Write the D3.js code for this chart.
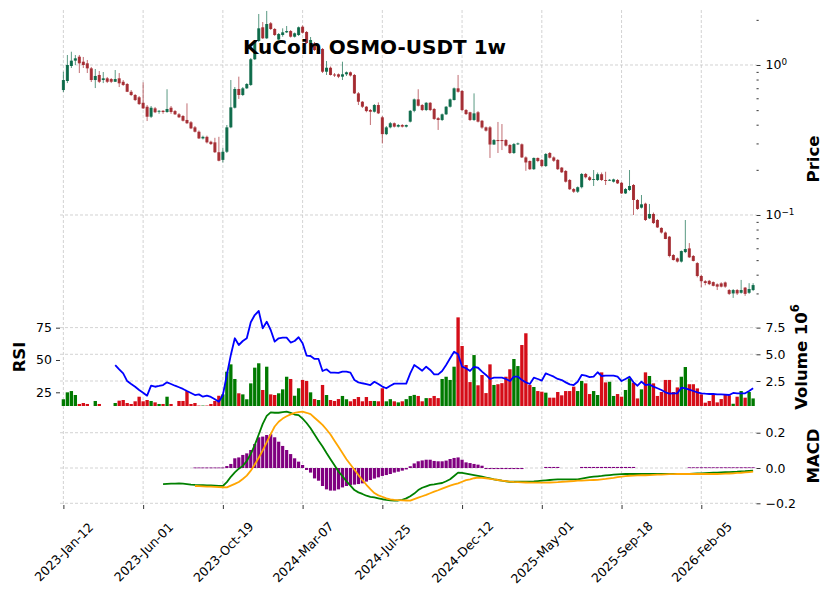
<!DOCTYPE html>
<html><head><meta charset="utf-8">
<script src="https://cdn.jsdelivr.net/npm/d3@7"></script>
<style>body{margin:0;background:#fff}svg{display:block;font-family:"DejaVu Sans",sans-serif}</style>
</head><body><svg id="c" width="831" height="600"></svg>
<script>
const title = "KuCoin OSMO-USDT 1w";
const startDate = "2023-01-12";
const tickLabels = ["2023-Jan-12","2023-Jun-01","2023-Oct-19","2024-Mar-07","2024-Jul-25","2024-Dec-12","2025-May-01","2025-Sep-18","2026-Feb-05"];

const open = [0.681,0.782,0.985,1.069,1.136,1.052,1.026,0.950,0.794,0.858,0.794,0.815,0.806,0.773,0.815,0.773,0.747,0.663,0.631,0.609,
0.560,0.527,0.452,0.514,0.488,0.495,0.486,0.519,0.493,0.469,0.457,0.430,0.415,0.384,0.359,0.324,0.332,0.308,0.305,0.262,
0.233,0.264,0.384,0.519,0.692,0.631,0.699,0.736,1.092,1.446,1.784,1.506,1.897,1.738,1.479,1.585,1.651,1.684,1.544,1.585,
1.800,1.660,1.402,1.395,1.259,1.279,0.902,0.959,0.864,0.867,0.836,0.867,0.894,0.858,0.647,0.569,0.527,0.501,0.488,0.541,
0.448,0.346,0.384,0.409,0.388,0.398,0.388,0.419,0.495,0.590,0.541,0.501,0.560,0.509,0.442,0.430,0.469,0.527,0.584,0.699,
0.671,0.501,0.484,0.430,0.484,0.425,0.384,0.384,0.295,0.316,0.316,0.316,0.293,0.259,0.296,0.296,0.242,0.229,0.202,0.240,
0.233,0.212,0.259,0.242,0.233,0.207,0.1965,0.1711,0.1490,0.1430,0.1532,0.1877,0.1785,0.1724,0.1711,0.1870,0.1711,0.1702,0.1667,0.1711,
0.1640,0.1393,0.1468,0.1585,0.1259,0.1119,0.1190,0.0950,0.1016,0.0926,0.0820,0.0764,0.0717,0.0541,0.0514,0.0489,0.0566,0.0599,0.0533,0.0478,
0.0392,0.0362,0.0364,0.0357,0.0345,0.0350,0.0355,0.0316,0.0300,0.0316,0.0303,0.0328,0.0303,0.0316];
const high = [0.902,1.166,1.226,1.166,1.166,1.131,1.080,0.970,0.940,0.912,0.898,0.832,0.818,0.926,0.884,0.794,0.758,0.681,0.641,0.621,
0.765,0.541,0.533,0.525,0.501,0.501,0.689,0.533,0.501,0.478,0.464,0.555,0.423,0.392,0.366,0.338,0.338,0.313,0.327,0.332,
0.280,0.398,0.794,0.713,0.836,0.713,0.758,1.113,1.468,2.188,1.934,2.292,1.934,1.765,1.634,1.756,1.820,1.711,1.646,1.806,
1.835,1.684,1.537,1.424,1.339,1.298,1.063,0.977,0.884,0.878,1.052,0.905,0.905,0.871,0.660,0.575,0.533,0.509,0.549,0.563,
0.457,0.392,0.417,0.414,0.404,0.404,0.401,0.501,0.598,0.689,0.549,0.566,0.566,0.517,0.450,0.475,0.533,0.598,0.708,0.858,
0.681,0.509,0.488,0.647,0.493,0.430,0.389,0.392,0.321,0.417,0.404,0.321,0.297,0.302,0.304,0.300,0.246,0.231,0.242,0.242,
0.236,0.259,0.263,0.246,0.236,0.209,0.1995,0.1737,0.1513,0.1550,0.1906,0.1906,0.1820,0.1995,0.1920,0.1920,0.1942,0.1737,0.1747,0.1737,
0.1656,0.1513,0.1995,0.1609,0.1278,0.1359,0.1208,0.1184,0.1039,0.0940,0.0828,0.0776,0.0725,0.0549,0.0521,0.0580,0.0926,0.0650,0.0541,0.0485,
0.0400,0.0368,0.0369,0.0361,0.0350,0.0356,0.0360,0.0321,0.0321,0.0321,0.0369,0.0331,0.0351,0.0351];
const low = [0.660,0.758,0.955,1.000,0.884,0.955,0.884,0.770,0.702,0.758,0.758,0.758,0.758,0.770,0.713,0.725,0.660,0.621,0.575,0.541,
0.509,0.423,0.443,0.478,0.473,0.473,0.480,0.473,0.464,0.443,0.420,0.404,0.374,0.355,0.321,0.319,0.300,0.293,0.259,0.228,
0.224,0.259,0.379,0.513,0.594,0.621,0.692,0.725,1.080,1.424,1.491,1.491,1.711,1.561,1.468,1.544,1.634,1.524,1.524,1.561,
1.621,1.380,1.380,1.240,1.240,0.884,0.858,0.851,0.832,0.818,0.794,0.845,0.838,0.641,0.541,0.517,0.484,0.398,0.482,0.471,
0.300,0.341,0.378,0.383,0.383,0.383,0.383,0.414,0.484,0.529,0.493,0.493,0.493,0.430,0.369,0.423,0.464,0.520,0.580,0.654,
0.493,0.464,0.423,0.423,0.414,0.376,0.360,0.240,0.293,0.259,0.271,0.286,0.255,0.255,0.293,0.240,0.197,0.1995,0.1995,0.225,
0.209,0.209,0.238,0.226,0.1995,0.1906,0.1646,0.1468,0.1403,0.1403,0.1503,0.1753,0.1685,0.1561,0.1685,0.1685,0.1585,0.1685,0.1646,0.1609,
0.1380,0.1380,0.1446,0.1000,0.1080,0.1105,0.0912,0.0940,0.0871,0.0820,0.0752,0.0690,0.0522,0.0497,0.0482,0.0482,0.0557,0.0517,0.0490,0.0384,
0.0330,0.0340,0.0341,0.0334,0.0316,0.0329,0.0327,0.0293,0.0280,0.0293,0.0299,0.0289,0.0298,0.0311];
const close = [0.794,1.000,1.069,1.108,1.026,1.000,0.950,0.794,0.845,0.773,0.815,0.773,0.773,0.806,0.755,0.736,0.663,0.631,0.584,0.549,
0.514,0.452,0.519,0.484,0.495,0.486,0.509,0.486,0.469,0.448,0.425,0.409,0.378,0.359,0.324,0.332,0.305,0.297,0.262,0.230,
0.264,0.384,0.522,0.692,0.631,0.699,0.747,1.092,1.446,1.756,1.506,1.876,1.738,1.585,1.609,1.651,1.684,1.544,1.627,1.784,
1.641,1.402,1.468,1.259,1.279,0.902,0.959,0.858,0.851,0.836,0.867,0.894,0.851,0.647,0.569,0.527,0.493,0.488,0.541,0.476,
0.346,0.384,0.409,0.388,0.398,0.388,0.398,0.495,0.590,0.535,0.501,0.560,0.501,0.437,0.430,0.469,0.527,0.590,0.699,0.663,
0.501,0.471,0.430,0.476,0.419,0.383,0.365,0.295,0.316,0.311,0.311,0.290,0.259,0.297,0.300,0.242,0.224,0.202,0.240,0.229,
0.212,0.255,0.241,0.230,0.202,0.1926,0.1667,0.1485,0.1430,0.1532,0.1877,0.1785,0.1711,0.1737,0.1870,0.1711,0.1698,0.1716,0.1727,0.1625,
0.1393,0.1490,0.1561,0.1259,0.1097,0.1178,0.0926,0.1016,0.0884,0.0826,0.0764,0.0692,0.0533,0.0501,0.0489,0.0575,0.0593,0.0522,0.0494,0.0392,
0.0362,0.0352,0.0346,0.0337,0.0333,0.0333,0.0333,0.0298,0.0316,0.0300,0.0316,0.0298,0.0321,0.0341];
// volume in millions
const volumeM = [0.79,1.44,1.56,1.19,0.35,0.44,0.35,0.15,0.63,0.35,0.15,0.15,0.15,0.44,0.66,0.72,0.44,0.35,0.60,1.03,
0.60,0.72,0.63,0.50,0.35,0.35,1.03,0.35,0.15,0.63,0.63,1.56,0.35,0.44,0.20,0.20,0.20,0.35,0.63,1.12,
1.25,3.37,4.06,2.69,1.35,1.25,0.79,2.28,3.75,4.16,1.66,3.84,1.25,1.19,1.35,1.72,2.90,2.69,1.12,1.82,
2.60,2.50,1.44,0.81,0.72,2.13,1.19,0.72,0.63,0.81,1.10,0.79,0.60,0.81,1.00,0.60,1.00,0.63,0.63,0.60,
1.82,0.60,0.80,0.60,0.50,0.60,0.80,1.10,1.20,1.10,0.60,0.90,0.90,1.10,0.90,2.69,2.90,2.60,3.84,8.46,
5.78,4.00,2.40,4.93,2.10,3.06,1.37,4.06,2.13,2.20,2.30,2.90,3.60,4.56,3.90,5.87,6.97,2.13,1.94,1.56,
1.50,1.41,0.94,0.94,1.47,1.16,1.56,1.56,1.97,1.56,2.50,2.28,1.28,1.56,1.19,3.31,2.37,2.43,1.10,1.28,
1.03,1.66,2.75,2.34,0.87,1.72,3.31,2.97,2.28,1.10,1.47,2.60,2.60,1.47,1.90,2.90,3.81,2.20,2.20,1.81,
1.25,0.47,0.63,1.25,0.50,0.81,1.25,1.16,0.37,1.03,1.56,0.94,1.47,0.87];
const rsi = [null,null,null,null,null,null,null,null,null,null,null,null,null,
46.1,42.8,39.7,33.7,31.4,29.3,26.8,24.7,22.4,30.1,29.3,29.9,30.6,32.7,31.4,30.1,28.9,27.6,26.0,24.5,22.9,23.4,21.6,22.4,21.4,19.6,17.7,
22.9,38.4,53.9,66.8,61.6,64.7,66.8,79.2,84.8,87.9,74.5,79.6,73.2,64.2,66.8,67.3,67.3,63.5,64.7,67.6,
62.9,53.4,53.1,50.8,50.8,41.5,42.8,40.2,40.2,40.0,41.0,41.0,40.2,34.5,32.7,32.0,31.4,30.6,33.2,31.4,
29.4,28.1,30.1,31.7,31.7,31.7,31.7,39.7,46.1,44.0,41.7,44.8,42.3,38.9,38.9,41.5,46.1,51.3,56.4,54.4,
44.8,43.6,41.5,44.6,44.0,41.0,38.4,35.3,36.3,36.3,36.3,35.3,33.7,37.1,37.1,34.5,32.7,31.4,36.3,35.3,
34.0,39.7,38.4,37.1,35.3,34.5,32.7,31.1,30.6,33.2,38.4,37.9,36.8,37.1,40.5,37.6,37.9,37.9,37.9,37.1,
33.7,35.3,37.1,32.7,30.1,33.2,30.6,31.1,29.4,28.1,26.8,25.0,24.0,24.2,24.2,28.6,28.1,27.0,26.0,25.0,
24.2,23.9,23.7,23.7,23.4,23.4,23.2,22.9,24.5,24.2,24.2,24.2,26.0,28.1];
const macdLine = [null,null,null,null,null,null,null,null,null,null,null,null,null,null,null,null,null,null,null,null,null,null,null,null,null,
-0.091,-0.090,-0.089,-0.088,-0.087,-0.089,-0.091,-0.094,-0.096,-0.097,-0.097,-0.098,-0.099,-0.100,-0.101,
-0.102,-0.080,-0.050,-0.025,-0.004,0.012,0.040,0.080,0.130,0.190,0.250,0.295,0.315,0.313,0.313,0.316,0.319,0.312,0.303,0.300,
0.280,0.255,0.225,0.190,0.155,0.122,0.085,0.050,0.015,-0.020,-0.046,-0.075,-0.100,-0.125,-0.138,-0.147,-0.157,-0.163,-0.167,-0.172,
-0.177,-0.181,-0.183,-0.185,-0.184,-0.180,-0.172,-0.160,-0.145,-0.125,-0.112,-0.104,-0.096,-0.093,-0.089,-0.085,-0.075,-0.064,-0.045,-0.026,
-0.028,-0.032,-0.036,-0.040,-0.044,-0.049,-0.054,-0.059,-0.064,-0.068,-0.072,-0.075,-0.078,-0.078,-0.078,-0.078,-0.078,-0.077,-0.076,-0.074,
-0.072,-0.070,-0.068,-0.066,-0.064,-0.064,-0.064,-0.064,-0.064,-0.064,-0.060,-0.056,-0.052,-0.049,-0.047,-0.045,-0.042,-0.040,-0.038,-0.036,
-0.035,-0.034,-0.034,-0.034,-0.034,-0.034,-0.034,-0.034,-0.034,-0.034,-0.034,-0.034,-0.034,-0.034,-0.034,-0.034,-0.034,-0.033,-0.032,-0.031,
-0.030,-0.029,-0.028,-0.027,-0.026,-0.025,-0.024,-0.023,-0.022,-0.021,-0.019,-0.018,-0.016,-0.015];
const signalLine = [null,null,null,null,null,null,null,null,null,null,null,null,null,null,null,null,null,null,null,null,null,null,null,null,null,null,null,null,null,null,null,null,null,
-0.102,-0.103,-0.104,-0.105,-0.106,-0.107,-0.108,
-0.109,-0.110,-0.100,-0.090,-0.079,-0.062,-0.043,-0.015,0.020,0.058,0.100,0.145,0.192,0.235,0.262,0.280,0.293,0.304,0.312,0.317,
0.319,0.313,0.305,0.285,0.265,0.244,0.218,0.190,0.155,0.120,0.085,0.050,0.020,-0.010,-0.040,-0.068,-0.095,-0.120,-0.142,-0.155,
-0.163,-0.172,-0.178,-0.181,-0.182,-0.183,-0.184,-0.185,-0.176,-0.168,-0.160,-0.152,-0.143,-0.134,-0.126,-0.117,-0.108,-0.100,-0.093,-0.087,
-0.078,-0.069,-0.064,-0.058,-0.054,-0.056,-0.058,-0.061,-0.064,-0.068,-0.071,-0.074,-0.077,-0.079,-0.080,-0.081,-0.082,-0.083,-0.083,-0.083,
-0.083,-0.083,-0.082,-0.081,-0.080,-0.078,-0.077,-0.075,-0.074,-0.072,-0.071,-0.070,-0.069,-0.068,-0.067,-0.064,-0.062,-0.059,-0.056,-0.052,
-0.049,-0.046,-0.044,-0.043,-0.042,-0.041,-0.041,-0.040,-0.039,-0.038,-0.037,-0.036,-0.035,-0.035,-0.034,-0.034,-0.034,-0.034,-0.034,-0.034,
-0.034,-0.034,-0.034,-0.034,-0.034,-0.033,-0.032,-0.031,-0.030,-0.028,-0.027,-0.025,-0.023,-0.021];
const macdHist = [null,null,null,null,null,null,null,null,null,null,null,null,null,null,null,null,null,null,null,null,null,null,null,null,null,null,null,null,null,null,null,null,null,
0.003,0.003,0.003,0.003,0.003,0.003,0.003,
0.003,0.011,0.023,0.055,0.060,0.074,0.083,0.102,0.136,0.174,0.178,0.187,0.191,0.174,0.149,0.125,0.102,0.079,0.055,0.036,
0.017,-0.011,-0.026,-0.059,-0.072,-0.102,-0.121,-0.128,-0.128,-0.121,-0.110,-0.102,-0.096,-0.094,-0.091,-0.087,-0.077,-0.068,-0.060,-0.053,
-0.045,-0.040,-0.034,-0.026,-0.021,-0.015,-0.008,0.010,0.026,0.038,0.043,0.047,0.047,0.040,0.038,0.038,0.042,0.051,0.057,0.060,
0.047,0.032,0.028,0.023,0.019,0.013,-0.006,-0.006,-0.006,-0.006,-0.006,-0.006,-0.006,-0.006,-0.006,-0.006,0,0,0,0,
0,0.006,0.006,0.006,0.006,0,0,0,0,0,0.006,0.006,0.006,0.006,0.006,0.006,0.006,0.006,0.006,0.006,
0.006,0.006,0.006,0.006,0,0,0,0,0,0,0,0,0,0,0,0,0,0.004,0.004,0.004,
0.004,0.004,0.004,0.004,0.004,0.004,0.004,0.004,0.004,0.004,0.004,0.004,0.004,0.004];

// ---------- layout ----------
const N = close.length;
const svg = d3.select("#c");
const parse = d3.timeParse("%Y-%m-%d"), fmt = d3.timeFormat("%Y-%b-%d");
const dates = close.map((_, i) => d3.timeDay.offset(parse(startDate), 7 * i));
const L = 60, R = 756.5;
const P = {top: 10, bot: 307}, V = {top: 307, bot: 406}, M = {top: 406, bot: 505};
const x = d3.scaleLinear().domain([-0.85, N - 0.15]).range([L, R]);
const yP = d3.scaleLog().domain([0.024357, 2.3263]).range([P.bot, P.top]);
const yV = d3.scaleLinear().domain([0.16, 9.43]).range([V.bot, V.top]);
const yR = d3.scaleLinear().domain([14.4, 91.0]).range([V.bot, V.top]);
const yM = d3.scaleLinear().domain([-0.2096, 0.3513]).range([M.bot, M.top]);
const unit = x(1) - x(0);
const tickIdx = tickLabels.map(t => dates.findIndex(d => fmt(d) === t)).filter(i => i >= 0);

const UP = "#006340", DN = "#A02128", VUP = "#007a00", VDN = "#d50d18";
const grid = svg.append("g").attr("stroke", "#c8c8c8").attr("stroke-width", 0.8).attr("stroke-dasharray", "3,2");
[P, V, M].forEach(p => tickIdx.forEach(i => grid.append("line").attr("x1", x(i)).attr("x2", x(i)).attr("y1", p.top).attr("y2", p.bot)));
[0.1, 1].forEach(v => grid.append("line").attr("x1", L).attr("x2", R).attr("y1", yP(v)).attr("y2", yP(v)));
[2.5, 5, 7.5].forEach(v => grid.append("line").attr("x1", L).attr("x2", R).attr("y1", yV(v)).attr("y2", yV(v)));
[-0.2, 0, 0.2].forEach(v => grid.append("line").attr("x1", L).attr("x2", R).attr("y1", yM(v)).attr("y2", yM(v)));

// volume
const isUp = i => close[i] >= open[i];
svg.append("g").selectAll("rect").data(volumeM).join("rect")
  .attr("x", (d, i) => x(i) - unit * 0.42).attr("width", unit * 0.84)
  .attr("y", d => yV(d)).attr("height", d => Math.max(0, yV.range()[0] - yV(d)))
  .attr("fill", (d, i) => isUp(i) ? VUP : VDN);
// RSI
svg.append("path").datum(rsi.map((v, i) => [i, v]).filter(d => d[1] != null))
  .attr("fill", "none").attr("stroke", "#0000ff").attr("stroke-width", 1.8).attr("stroke-linejoin", "round")
  .attr("d", d3.line().x(d => x(d[0])).y(d => yR(d[1])));

// candles
const cg = svg.append("g");
close.forEach((c, i) => {
  const col = isUp(i) ? UP : DN;
  cg.append("line").attr("x1", x(i)).attr("x2", x(i)).attr("y1", yP(high[i])).attr("y2", yP(low[i]))
    .attr("stroke", col).attr("stroke-width", 1).attr("stroke-opacity", 0.65);
  const y1 = yP(Math.max(open[i], c)), y2 = yP(Math.min(open[i], c));
  cg.append("rect").attr("x", x(i) - unit * 0.38).attr("width", unit * 0.76)
    .attr("y", y1).attr("height", Math.max(0.9, y2 - y1)).attr("fill", col).attr("fill-opacity", 0.9);
});

// MACD
svg.append("g").selectAll("rect").data(macdHist.map((v, i) => [i, v]).filter(d => d[1] != null && d[1] !== 0)).join("rect")
  .attr("x", d => x(d[0]) - unit * 0.4).attr("width", unit * 0.8)
  .attr("y", d => Math.min(yM(d[1]), yM(0))).attr("height", d => Math.max(0.8, Math.abs(yM(d[1]) - yM(0))))
  .attr("fill", "#800080");
[[macdLine, "#008000"], [signalLine, "#FFA500"]].forEach(([arr, col]) => {
  svg.append("path").datum(arr.map((v, i) => [i, v]).filter(d => d[1] != null))
    .attr("fill", "none").attr("stroke", col).attr("stroke-width", 1.8).attr("stroke-linejoin", "round")
    .attr("d", d3.line().x(d => x(d[0])).y(d => yM(d[1])));
});

// axes
function style(g) {
  g.select(".domain").remove();
  g.selectAll(".tick line").attr("stroke", "#000").attr("stroke-width", 0.8);
  g.selectAll("text").attr("font-size", "12.5px").attr("fill", "#000").attr("font-family", "DejaVu Sans");
}
const supFmt = {1: "0", 0.1: "\u22121"};
const gp = svg.append("g").attr("transform", `translate(${R},0)`).call(d3.axisRight(yP).tickValues([0.1, 1]).tickSize(4).tickPadding(5).tickFormat(() => "")).call(style);
gp.selectAll(".tick").each(function (d) {
  const t = d3.select(this).select("text").attr("dy", "0.32em");
  t.append("tspan").text("10");
  t.append("tspan").text(supFmt[d]).attr("font-size", "8.8px").attr("dy", "-0.55em");
});
const minors = [0.03,0.04,0.05,0.06,0.07,0.08,0.09,0.2,0.3,0.4,0.5,0.6,0.7,0.8,0.9,2];
svg.append("g").attr("transform", `translate(${R},0)`).call(d3.axisRight(yP).tickValues(minors).tickSize(2.2).tickFormat(() => "")).call(style);
svg.append("g").attr("transform", `translate(${R},0)`).call(d3.axisRight(yV).tickValues([2.5, 5, 7.5]).tickSize(4).tickPadding(5).tickFormat(d3.format(".1f"))).call(style);
svg.append("g").attr("transform", `translate(${L},0)`).call(d3.axisLeft(yR).tickValues([25, 50, 75]).tickSize(4).tickPadding(4).tickFormat(d3.format("d"))).call(style);
const gm = svg.append("g").attr("transform", `translate(${R},0)`).call(d3.axisRight(yM).tickValues([-0.2, 0, 0.2]).tickSize(4).tickPadding(5).tickFormat(d => d3.format(".1f")(d).replace("-", "\u2212"))).call(style);
const gx = svg.append("g").attr("transform", `translate(0,${M.bot})`).call(d3.axisBottom(x).tickValues(tickIdx).tickSize(4).tickFormat(i => fmt(dates[i]))).call(style);
gx.selectAll("text").attr("y", 0).attr("dy", null).attr("text-anchor", "middle").attr("dominant-baseline", "central")
  .attr("transform", "translate(0,47) rotate(-45)");

// labels
const lab = (t, xx, yy) => svg.append("text").attr("transform", `translate(${xx},${yy}) rotate(-90)`)
  .attr("text-anchor", "middle").attr("font-weight", "bold").attr("font-size", "16.5px").text(t);
lab("Price", 819, 159);
lab("RSI", 25, 357);
lab("MACD", 819, 456);
const vl = svg.append("text").attr("transform", `translate(807,357) rotate(-90)`).attr("text-anchor", "middle")
  .attr("font-weight", "bold").attr("font-size", "16.5px");
vl.append("tspan").text("Volume  10");
vl.append("tspan").text("6").attr("font-size", "11.5px").attr("dy", "-0.7em");
svg.append("text").attr("x", 374.5).attr("y", 54).attr("text-anchor", "middle").attr("font-weight", "bold")
  .attr("font-size", "20px").text(title);
</script></body></html>
